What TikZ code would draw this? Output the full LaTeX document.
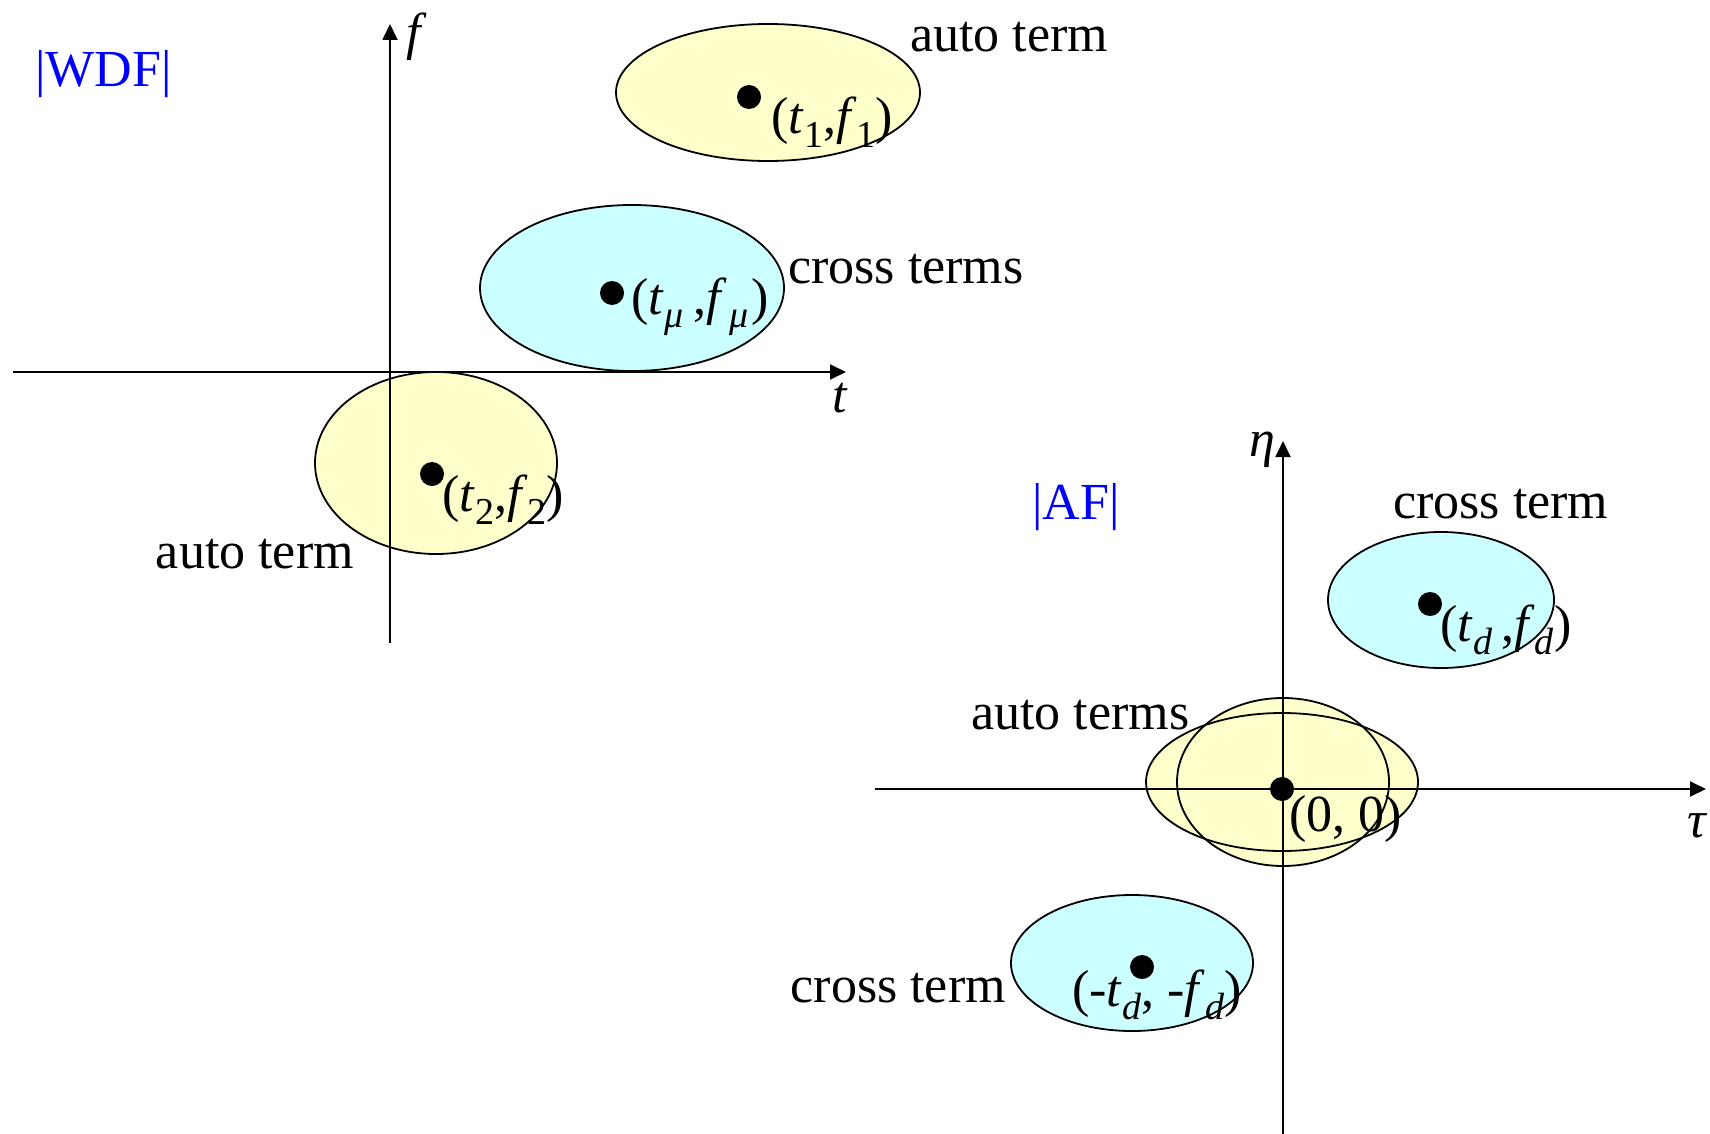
\documentclass[tikz,border=0pt]{standalone}
\usepackage{fontspec}
\setmainfont{Liberation Serif}
\usetikzlibrary{arrows.meta}
\definecolor{autofill}{HTML}{FFFFCC}
\definecolor{crossfill}{HTML}{CCFFFF}
\definecolor{tagblue}{HTML}{0000FF}
\newcommand\lsub[1]{\raisebox{-0.26em}{\fontsize{38}{38}\selectfont #1}}
\begin{document}
\begin{tikzpicture}[x=1pt,y=-1pt,
  axisline/.style={line width=1.8pt,-{Triangle[length=16pt,width=15pt]}},
  outline/.style={draw=black,line width=1.8pt},
  txt/.style={inner sep=0pt,anchor=base west,font=\fontsize{52}{60}\selectfont},
  tag/.style={txt,text=tagblue},
  dotmark/.style={fill=black}]
\useasboundingbox (0,0) rectangle (1710,1134);
% ---- fills
\fill[autofill] (768,92.5) ellipse [x radius=152pt,y radius=68.5pt];
\fill[crossfill] (632,288) ellipse [x radius=152pt,y radius=83pt];
\fill[autofill] (436,463) ellipse [x radius=121pt,y radius=91pt];
\fill[crossfill] (1441,600) ellipse [x radius=113pt,y radius=68pt];
\fill[autofill] (1282,782) ellipse [x radius=136pt,y radius=69pt];
\fill[autofill] (1283,782) ellipse [x radius=106pt,y radius=84pt];
\fill[crossfill] (1132,963) ellipse [x radius=121pt,y radius=68pt];
% ---- outlines
\draw[outline] (768,92.5) ellipse [x radius=152pt,y radius=68.5pt];
\draw[outline] (632,288) ellipse [x radius=152pt,y radius=83pt];
\draw[outline] (436,463) ellipse [x radius=121pt,y radius=91pt];
\draw[outline] (1441,600) ellipse [x radius=113pt,y radius=68pt];
\draw[outline] (1282,782) ellipse [x radius=136pt,y radius=69pt];
\draw[outline] (1283,782) ellipse [x radius=106pt,y radius=84pt];
\draw[outline] (1132,963) ellipse [x radius=121pt,y radius=68pt];
% ---- axes
\coordinate (tL) at (13,372);
\coordinate (tR) at (846,372);
\coordinate (fB) at (390,643);
\coordinate (fT) at (390,24);
\coordinate (tauL) at (875,789);
\coordinate (tauR) at (1706,789);
\coordinate (etaB) at (1283,1134);
\coordinate (etaT) at (1283,441);
\draw[axisline] (tL) -- (tR);
\draw[axisline] (fB) -- (fT);
\draw[axisline] (tauL) -- (tauR);
\draw[axisline] (etaB) -- (etaT);
% ---- dots
\fill[dotmark] (749,97) circle (12pt);
\fill[dotmark] (612,293) circle (12pt);
\fill[dotmark] (432,474) circle (12pt);
\fill[dotmark] (1430,604) circle (12pt);
\fill[dotmark] (1282,789) circle (12pt);
\fill[dotmark] (1142,967) circle (12pt);
% ---- labels
\node[tag] (wdf) at (35,87) {|WDF|};
\node[tag] (af) at (1032,519) {|AF|};
\node[txt,anchor=center] (flab) at (417,37) {\textit{f}};
\node[txt,anchor=center] (tlab) at (840,398) {\textit{t}};
\node[txt,anchor=center] (etalab) at (1262,450) {\textit{η}};
\node[txt,anchor=center] (taulab) at (1698,826) {\textit{τ}};
\node[txt] (at1) at (910,52) {auto term};
\node[txt] (ct1) at (788,283) {cross terms};
\node[txt,anchor=base east] (at2) at (354,568) {auto term};
\node[txt] (ct2) at (1393,518) {cross term};
\node[txt] (at3) at (971,729) {auto terms};
\node[txt,anchor=base east] (ct3) at (1006,1002) {cross term};
\node[txt] (p1) at (771,134) {(\textit{t}\lsub{1},\textit{f}\lsub{1})};
\node[txt] (pmu) at (631,314) {(\textit{t}\lsub{\textit{μ}}\kern0.2em,\textit{f}\kern0.05em\lsub{\textit{μ}}\kern0.05em)};
\node[txt] (p2) at (442,511) {(\textit{t}\lsub{2},\textit{f}\lsub{2})};
\node[txt] (pd) at (1440,641) {(\textit{t}\lsub{\textit{d}}\kern0.18em,\textit{f}\lsub{\textit{d}})};
\node[txt] (p0) at (1289,831) {(0, 0)};
\node[txt] (pmd) at (1072,1006) {(-\textit{t}\lsub{\textit{d}}, -\textit{f}\lsub{\textit{d}})};
\end{tikzpicture}
\end{document}
